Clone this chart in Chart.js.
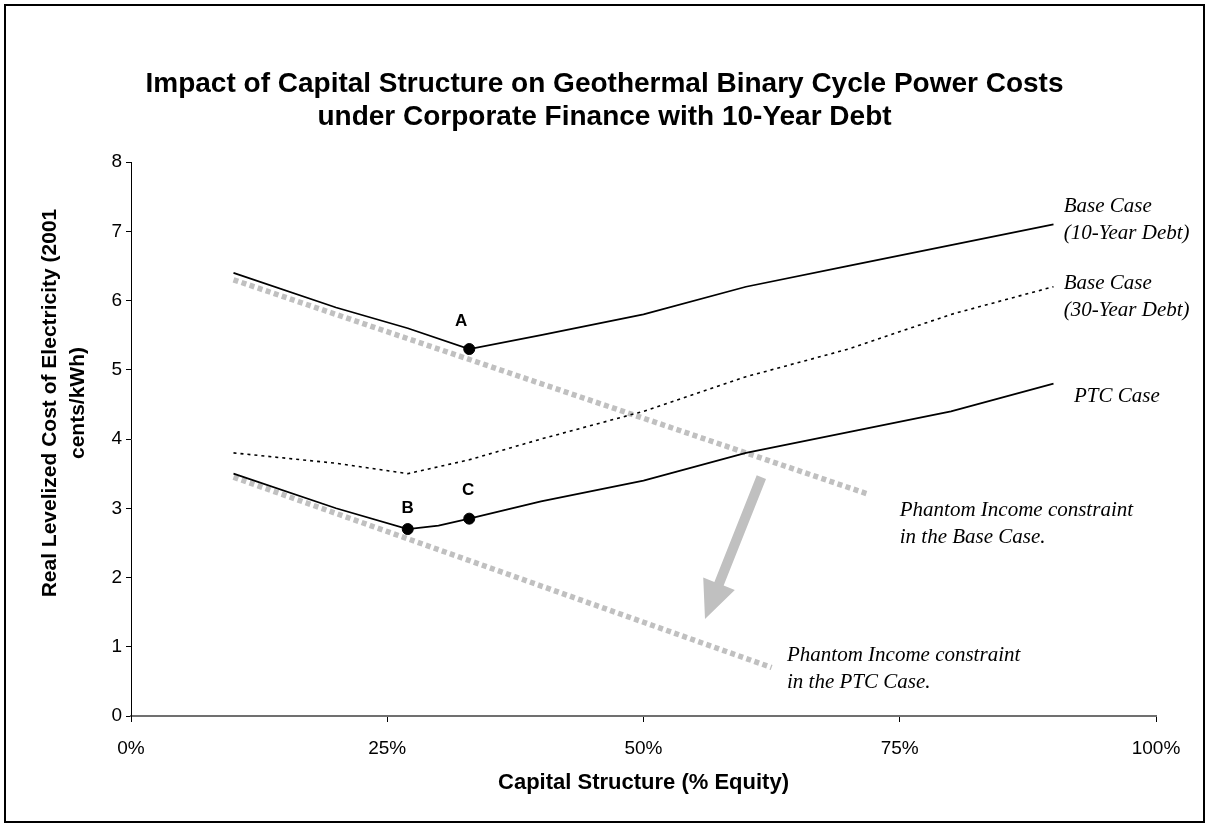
<!DOCTYPE html>
<html><head><meta charset="utf-8">
<script src="https://cdn.jsdelivr.net/npm/chart.js@4.4.1/dist/chart.umd.min.js"></script>
<style>
html,body{margin:0;padding:0;background:#fff;}
#wrap{position:absolute;left:0;top:0;width:1209px;height:827px;}
#frame{position:absolute;left:4px;top:4px;width:1197px;height:815px;border:2px solid #000;pointer-events:none;}
</style></head><body>
<div id="wrap"><canvas id="c" width="1209" height="827"></canvas></div>
<div id="frame"></div>
<script>
// ---- data ----
const equityPct = [10, 20, 27, 33, 40, 50, 60, 70, 80, 90];
const baseCase10yr = [6.4, 5.9, 5.6, 5.3, 5.5, 5.8, 6.2, 6.5, 6.8, 7.1];
const baseCase30yr = [3.8, 3.65, 3.5, 3.7, 4.0, 4.4, 4.9, 5.3, 5.8, 6.2];
const ptcEquityPct = [10, 20, 27, 30, 33, 40, 50, 60, 70, 80, 90];
const ptcCase = [3.5, 3.0, 2.7, 2.75, 2.85, 3.1, 3.4, 3.8, 4.1, 4.4, 4.8];
const baseConstraintPct = [10, 72];
const baseConstraint = [6.3, 3.2];
const ptcConstraintPct = [10, 62.5];
const ptcConstraint = [3.45, 0.7];
const pointLabels = ['A', 'B', 'C'];
const pointPct = [33, 27, 33];
const pointCost = [5.3, 2.7, 2.85];
const xTickValues = [0, 25, 50, 75, 100];
const yTickValues = [0, 1, 2, 3, 4, 5, 6, 7, 8];
const arrowPct = [61.5, 56];
const arrowCost = [3.45, 1.4];
const yAxisTitle = ['Real Levelized Cost of Electricity (2001', 'cents/kWh)'];
const noteTexts = [
  ['Base Case', '(10-Year Debt)'],
  ['Base Case', '(30-Year Debt)'],
  ['PTC Case'],
  ['Phantom Income constraint', 'in the Base Case.'],
  ['Phantom Income constraint', 'in the PTC Case.']
];
const notePct = [91, 91, 92, 75, 64];
const noteCost = [7.36, 6.25, 4.62, 2.97, 0.88];

// ---- styles ----
const SANS = '"Liberation Sans", Arial, sans-serif';
const SERIF = '"Liberation Serif", "Times New Roman", serif';
const letterDx = [-8, 0, -1];
const letterDy = [-28, -21, -28];
const toXY = (xs, ys) => xs.map((x, i) => ({x: x, y: ys[i]}));

const annotations = {
  id: 'annotations',
  beforeDatasetsDraw(chart) {
    const {ctx, scales: {x, y}} = chart;
    const x1 = x.getPixelForValue(arrowPct[0]), y1 = y.getPixelForValue(arrowCost[0]);
    const x2 = x.getPixelForValue(arrowPct[1]), y2 = y.getPixelForValue(arrowCost[1]);
    const ang = Math.atan2(y2 - y1, x2 - x1);
    const len = Math.hypot(x2 - x1, y2 - y1);
    const headLen = 38, headW = 17, shaftW = 5;
    ctx.save();
    ctx.translate(x1, y1);
    ctx.rotate(ang);
    ctx.fillStyle = '#c0c0c0';
    ctx.beginPath();
    ctx.moveTo(0, -shaftW);
    ctx.lineTo(len - headLen, -shaftW);
    ctx.lineTo(len - headLen, -headW);
    ctx.lineTo(len, 0);
    ctx.lineTo(len - headLen, headW);
    ctx.lineTo(len - headLen, shaftW);
    ctx.lineTo(0, shaftW);
    ctx.closePath();
    ctx.fill();
    ctx.restore();
  },
  afterDatasetsDraw(chart) {
    const {ctx, chartArea, scales: {x, y}} = chart;
    ctx.save();
    ctx.fillStyle = '#000';
    ctx.font = 'bold 17px ' + SANS;
    ctx.textAlign = 'center';
    ctx.textBaseline = 'middle';
    pointLabels.forEach((t, i) => {
      ctx.fillText(t, x.getPixelForValue(pointPct[i]) + letterDx[i], y.getPixelForValue(pointCost[i]) + letterDy[i]);
    });
    ctx.font = 'italic 21px ' + SERIF;
    ctx.textAlign = 'left';
    noteTexts.forEach((lines, i) => {
      const px = x.getPixelForValue(notePct[i]);
      const py = y.getPixelForValue(noteCost[i]);
      lines.forEach((ln, j) => ctx.fillText(ln, px, py + j * 27.5));
    });
    // y-axis title (two rotated lines, centred a little above the plot middle)
    ctx.font = 'bold 21px ' + SANS;
    ctx.textAlign = 'center';
    const cy = (chartArea.top + chartArea.bottom) / 2 - 36;
    yAxisTitle.forEach((ln, j) => {
      ctx.save();
      ctx.translate(50 + j * 28, cy);
      ctx.rotate(-Math.PI / 2);
      ctx.fillText(ln, 0, 0);
      ctx.restore();
    });
    ctx.restore();
  }
};

new Chart(document.getElementById('c'), {
  type: 'scatter',
  data: {
    datasets: [
      {label: 'Points', data: toXY(pointPct, pointCost), showLine: false,
       pointRadius: 5.5, pointBackgroundColor: '#000', pointBorderColor: '#000'},
      {label: 'Base Case (10-Year Debt)', data: toXY(equityPct, baseCase10yr), showLine: true,
       borderColor: '#000', borderWidth: 1.7, pointRadius: 0, tension: 0},
      {label: 'Base Case (30-Year Debt)', data: toXY(equityPct, baseCase30yr), showLine: true,
       borderColor: '#000', borderWidth: 1.6, borderDash: [3, 4], pointRadius: 0, tension: 0},
      {label: 'PTC Case', data: toXY(ptcEquityPct, ptcCase), showLine: true,
       borderColor: '#000', borderWidth: 1.7, pointRadius: 0, tension: 0},
      {label: 'Phantom Income constraint (Base)', data: toXY(baseConstraintPct, baseConstraint), showLine: true,
       borderColor: '#c0c0c0', borderWidth: 5.5, borderDash: [5, 3.5], borderCapStyle: 'butt', pointRadius: 0},
      {label: 'Phantom Income constraint (PTC)', data: toXY(ptcConstraintPct, ptcConstraint), showLine: true,
       borderColor: '#c0c0c0', borderWidth: 5.5, borderDash: [5, 3.5], borderCapStyle: 'butt', pointRadius: 0}
    ]
  },
  options: {
    responsive: false,
    animation: false,
    events: [],
    layout: {padding: {left: 0, right: 0, top: 0, bottom: 0}},
    plugins: {
      legend: {display: false},
      tooltip: {enabled: false},
      title: {
        display: true,
        text: ['Impact of Capital Structure on Geothermal Binary Cycle Power Costs',
               'under Corporate Finance with 10-Year Debt'],
        color: '#000',
        font: {family: SANS, size: 28, weight: 'bold', lineHeight: 1.18},
        padding: {top: 68, bottom: 28}
      }
    },
    scales: {
      x: {
        type: 'linear', min: 0, max: 100,
        afterBuildTicks: s => { s.ticks = xTickValues.map(v => ({value: v})); },
        afterFit: s => { s.height = 111; },
        ticks: {callback: v => v + '%', color: '#000', font: {family: SANS, size: 19}, padding: 15, maxRotation: 0},
        grid: {drawOnChartArea: false, drawTicks: true, tickLength: 6, tickColor: '#000', tickWidth: 1},
        border: {display: true, color: '#707070', width: 2},
        title: {display: true, text: 'Capital Structure (% Equity)', color: '#000',
                font: {family: SANS, size: 22, weight: 'bold', lineHeight: 1.2}, padding: {top: 0, bottom: 31}}
      },
      y: {
        type: 'linear', min: 0, max: 8,
        afterBuildTicks: s => { s.ticks = yTickValues.map(v => ({value: v})); },
        afterFit: s => { s.width = 131; },
        ticks: {color: '#000', font: {family: SANS, size: 19}, padding: 4},
        grid: {drawOnChartArea: false, drawTicks: true, tickLength: 5, tickColor: '#000', tickWidth: 1},
        border: {display: true, color: '#000', width: 1},
        title: {display: false}
      },
      rightMargin: {
        type: 'linear', position: 'right', display: true,
        afterFit: s => { s.width = 53; },
        ticks: {display: false},
        grid: {display: false, drawTicks: false},
        border: {display: false},
        title: {display: false}
      }
    }
  },
  plugins: [annotations]
});
</script>
</body></html>
